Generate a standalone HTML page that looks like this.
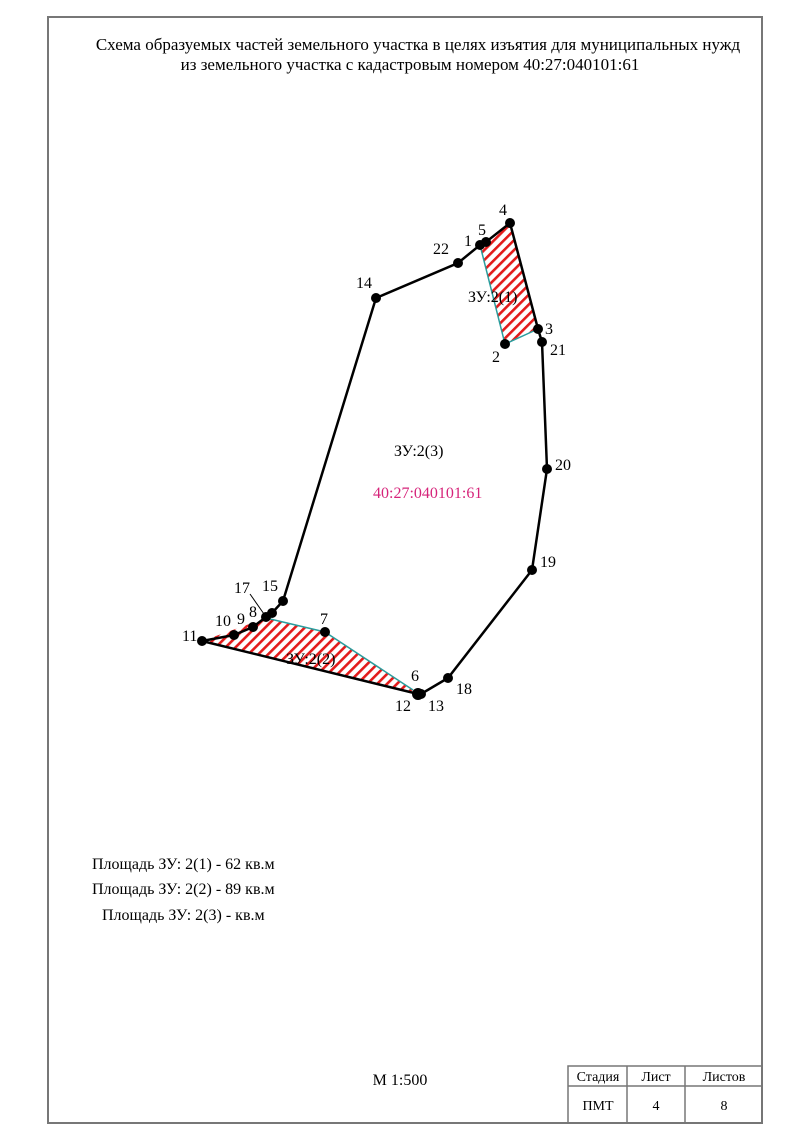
<!DOCTYPE html>
<html><head><meta charset="utf-8"><style>
body{margin:0;background:#fff;}
svg{display:block;}
text{font-family:"Liberation Serif",serif;fill:#000;}
</style></head><body>
<svg width="810" height="1145" viewBox="0 0 810 1145">
<defs>
<pattern id="h" patternUnits="userSpaceOnUse" width="7" height="7" patternTransform="rotate(-45)">
<rect width="7" height="7" fill="#fff"/><rect width="7" height="2.6" fill="#e31b1b"/>
</pattern>
</defs>
<rect x="48" y="17" width="714" height="1106" fill="none" stroke="#777" stroke-width="2"/>
<g stroke="#777" stroke-width="1.5" fill="none">
<rect x="568" y="1066" width="194" height="57"/>
<line x1="568" y1="1086" x2="762" y2="1086"/>
<line x1="627" y1="1066" x2="627" y2="1123"/>
<line x1="685" y1="1066" x2="685" y2="1123"/>
</g>
<g font-size="14" text-anchor="middle">
<text x="598" y="1081">Стадия</text><text x="656" y="1081">Лист</text><text x="724" y="1081">Листов</text>
<text x="598" y="1110">ПМТ</text><text x="656" y="1110">4</text><text x="724" y="1110">8</text>
</g>
<text x="400" y="1085" font-size="16" text-anchor="middle">М 1:500</text>
<g font-size="17" text-anchor="middle">
<text x="418" y="50">Схема образуемых частей земельного участка в целях изъятия для муниципальных нужд</text>
<text x="410" y="70">из земельного участка с кадастровым номером 40:27:040101:61</text>
</g>
<g font-size="16">
<text x="92" y="869">Площадь ЗУ: 2(1) - 62 кв.м</text>
<text x="92" y="894">Площадь ЗУ: 2(2) - 89 кв.м</text>
<text x="102" y="920">Площадь ЗУ: 2(3) -  кв.м</text>
</g>
<polygon points="480,245 510,223 538,329 505,344" fill="url(#h)"/>
<polygon points="202,641 266,618 325,632 413,690 418,694" fill="url(#h)"/>
<polyline points="480,245 505,344 538,329" fill="none" stroke="#2a9d9d" stroke-width="1.5"/>
<polyline points="266,618 325,632 413,690" fill="none" stroke="#2a9d9d" stroke-width="1.5"/>
<polygon points="480,245 486,242 510,223 538,329 542,342 547,469 532,570 448,678 421,694 418,694 202,641 234,635 253,627 266,617 272,613 283,601 376,298 458,263" fill="none" stroke="#000" stroke-width="2.5"/>
<line x1="250" y1="594" x2="264" y2="614" stroke="#000" stroke-width="1"/>
<g fill="#000">
<circle cx="510" cy="223" r="5"/><circle cx="486" cy="242" r="5"/><circle cx="480" cy="245" r="5"/>
<circle cx="458" cy="263" r="5"/><circle cx="376" cy="298" r="5"/><circle cx="283" cy="601" r="5"/>
<circle cx="272" cy="613" r="5"/><circle cx="266" cy="617" r="5"/><circle cx="253" cy="627" r="5"/>
<circle cx="234" cy="635" r="5"/><circle cx="202" cy="641" r="5"/><circle cx="418" cy="694" r="6"/>
<circle cx="421" cy="694" r="5"/><circle cx="448" cy="678" r="5"/><circle cx="532" cy="570" r="5"/>
<circle cx="547" cy="469" r="5"/><circle cx="542" cy="342" r="5"/><circle cx="538" cy="329" r="5"/>
<circle cx="505" cy="344" r="5"/><circle cx="325" cy="632" r="5"/>
</g>
<g font-size="16">
<text x="499" y="215">4</text><text x="478" y="235">5</text><text x="464" y="246">1</text>
<text x="433" y="254">22</text><text x="356" y="288">14</text><text x="545" y="334">3</text>
<text x="492" y="362">2</text><text x="550" y="355">21</text><text x="555" y="470">20</text>
<text x="540" y="567">19</text><text x="456" y="694">18</text><text x="428" y="711">13</text>
<text x="395" y="711">12</text><text x="411" y="681">6</text><text x="320" y="624">7</text>
<text x="262" y="591">15</text><text x="234" y="593">17</text><text x="249" y="617">8</text>
<text x="237" y="624">9</text><text x="215" y="626">10</text><text x="182" y="641">11</text>
<text x="468" y="302">ЗУ:2(1)</text><text x="286" y="664">ЗУ:2(2)</text>
<text x="394" y="456">ЗУ:2(3)</text>
<text x="373" y="498" style="fill:#d6247a">40:27:040101:61</text>
</g>
</svg>
</body></html>
